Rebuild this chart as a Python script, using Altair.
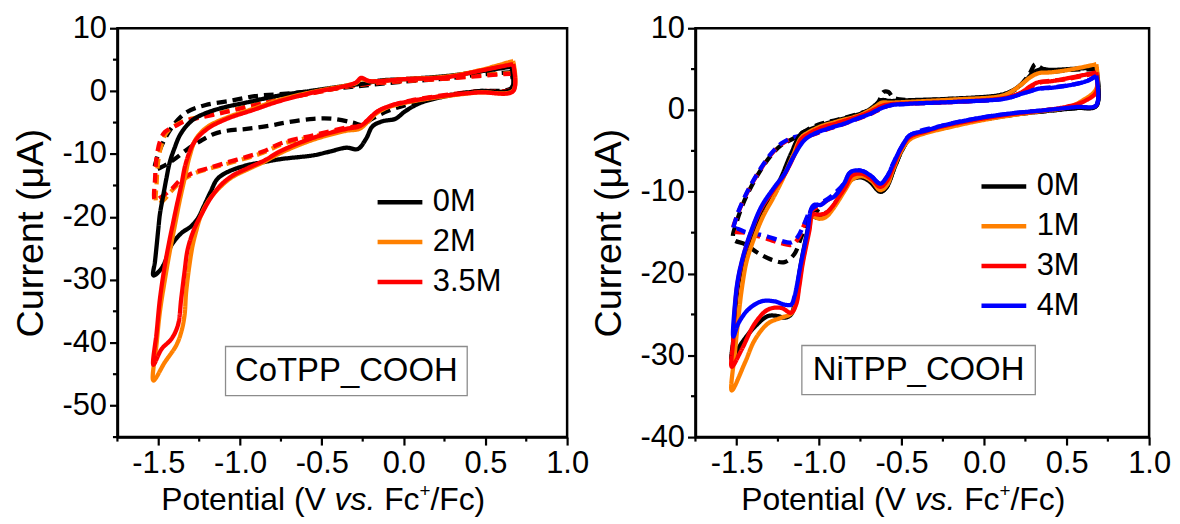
import altair as alt
import pandas as pd

FONT = "Liberation Sans"

# ---------------- series names / colours ----------------
CO_SERIES = ["0M", "2M", "3.5M"]
CO_COLORS = ["#000000", "#ff8000", "#ff0000"]
NI_SERIES = ["0M", "1M", "3M", "4M"]
NI_COLORS = ["#000000", "#ff8000", "#ff0000", "#0000ff"]

X_MAJOR = [-1.5, -1.0, -0.5, 0.0, 0.5, 1.0]
X_MINOR = [-1.75, -1.25, -0.75, -0.25, 0.25, 0.75]
CO_Y_MAJOR = [-50, -40, -30, -20, -10, 0, 10]
CO_Y_MINOR = [-55, -45, -35, -25, -15, -5, 5]
NI_Y_MAJOR = [-40, -30, -20, -10, 0, 10]
NI_Y_MINOR = [-35, -25, -15, -5, 5]

XTITLE_PARTS = ["Potential (V", "vs.", "Fc", "+", "/Fc)"]
YTITLE = "Current (\u03bcA)"

CO_NOTE = "CoTPP_COOH"
NI_NOTE = "NiTPP_COOH"
CO_NOTE_BOX = (-1.089, 0.389, -40.6, -48.4)   # x1, x2, y1, y2 (data units)
NI_NOTE_BOX = (-1.105, 0.310, -28.8, -34.8)

# ---------------- CoTPP_COOH curves (x, y) ----------------
CO_0M_SOLID = [
    (0.66, 3.9), (0.46, 3.1), (0.26, 2.4), (0.0, 1.9), (-0.14, 1.7), (-0.22, 1.3), (-0.35, 0.85),
    (-0.55, 0.1), (-0.76, -0.7), (-0.96, -1.8), (-1.10, -2.6), (-1.20, -3.4), (-1.28, -4.4),
    (-1.33, -5.6), (-1.37, -7.1), (-1.40, -9.0), (-1.43, -11.3), (-1.45, -13.8), (-1.47, -16.6),
    (-1.49, -19.5), (-1.50, -21.9), (-1.51, -24.5), (-1.52, -27.0), (-1.53, -29.3),
    (-1.49, -28.5), (-1.46, -27.2), (-1.42, -24.5), (-1.36, -22.6), (-1.30, -21.5), (-1.26, -20.3),
    (-1.22, -18.2), (-1.18, -16.0), (-1.14, -14.0), (-1.08, -12.9), (-0.96, -11.8), (-0.86, -11.3),
    (-0.75, -10.8), (-0.55, -10.2), (-0.45, -9.6), (-0.35, -9.0), (-0.28, -9.2), (-0.23, -7.6),
    (-0.19, -5.6), (-0.13, -4.8), (-0.05, -4.4), (0.01, -3.2), (0.10, -1.9), (0.26, -0.8),
    (0.46, 0.0), (0.66, 0.3), (0.66, 3.9)]
CO_2M_SOLID = [
    (0.67, 4.8), (0.46, 3.3), (0.26, 2.3), (0.0, 1.9), (-0.14, 1.6), (-0.21, 1.6), (-0.26, 1.9),
    (-0.29, 1.3), (-0.35, 0.9), (-0.55, -0.1), (-0.76, -1.4), (-0.92, -2.8), (-1.08, -4.2),
    (-1.20, -5.7), (-1.27, -7.6), (-1.31, -10.5), (-1.34, -14.0), (-1.37, -17.5), (-1.40, -21.5),
    (-1.43, -25.5), (-1.46, -30.0), (-1.49, -35.0), (-1.51, -40.0), (-1.53, -46.0),
    (-1.46, -43.1), (-1.39, -40.4), (-1.36, -38.3), (-1.34, -35.7), (-1.33, -32.0), (-1.31, -27.7),
    (-1.29, -24.5), (-1.27, -22.4), (-1.24, -19.8), (-1.19, -17.3), (-1.12, -15.2), (-1.05, -13.7),
    (-0.95, -12.4), (-0.85, -11.2), (-0.75, -9.8), (-0.55, -7.7), (-0.35, -6.3), (-0.27, -6.0),
    (-0.22, -4.9), (-0.17, -3.6), (-0.09, -2.5), (0.06, -1.6), (0.26, -0.8), (0.46, -0.2),
    (0.67, 0.1), (0.67, 4.8)]
CO_35M_SOLID = [
    (0.67, 4.3), (0.46, 3.2), (0.26, 2.2), (0.0, 1.9), (-0.14, 1.6), (-0.21, 1.6), (-0.26, 2.1),
    (-0.29, 1.4), (-0.35, 0.85), (-0.55, -0.2), (-0.76, -1.6), (-0.92, -3.0), (-1.08, -4.4),
    (-1.20, -6.0), (-1.28, -8.1), (-1.33, -11.3), (-1.36, -15.0), (-1.39, -18.5), (-1.41, -21.0),
    (-1.43, -23.5), (-1.46, -27.7), (-1.49, -33.0), (-1.51, -38.3), (-1.53, -43.5),
    (-1.48, -41.0), (-1.42, -39.4), (-1.38, -37.2), (-1.36, -33.0), (-1.34, -28.8), (-1.32, -25.1),
    (-1.28, -21.9), (-1.23, -19.3), (-1.18, -17.0), (-1.12, -15.0), (-1.05, -13.5), (-0.95, -12.2),
    (-0.85, -11.0), (-0.75, -9.5), (-0.55, -7.4), (-0.35, -6.0), (-0.27, -5.6), (-0.22, -4.7),
    (-0.17, -3.4), (-0.09, -2.4), (0.06, -1.5), (0.26, -0.7), (0.46, -0.2), (0.67, 0.0), (0.67, 4.3)]
CO_0M_DASH = [
    (0.66, 3.0), (0.46, 2.6), (0.26, 2.0), (0.0, 1.5), (-0.2, 1.0), (-0.35, 0.6), (-0.55, 0.0),
    (-0.77, -0.5), (-0.91, -0.8), (-1.05, -1.5), (-1.21, -2.2), (-1.33, -3.4), (-1.41, -5.5),
    (-1.47, -8.1), (-1.51, -10.8), (-1.52, -12.4),
    (-1.46, -11.8), (-1.40, -10.8), (-1.32, -9.2), (-1.24, -7.9), (-1.16, -6.8), (-1.08, -6.3),
    (-0.96, -6.0), (-0.82, -5.5), (-0.72, -5.0), (-0.55, -4.4), (-0.43, -4.4), (-0.31, -5.0),
    (-0.25, -5.4), (-0.20, -4.5), (-0.09, -3.1), (0.10, -1.6), (0.26, -0.7), (0.46, 0.0),
    (0.66, 0.5), (0.66, 3.0)]
CO_2M_DASH = [
    (0.67, 2.9), (0.46, 2.5), (0.26, 2.0), (0.0, 1.6), (-0.2, 1.2), (-0.35, 0.7), (-0.55, -0.3),
    (-0.76, -1.3), (-0.92, -2.2), (-1.10, -3.3), (-1.24, -4.1), (-1.33, -4.6), (-1.40, -5.5),
    (-1.45, -6.6), (-1.48, -8.5), (-1.50, -11.0), (-1.51, -14.5), (-1.51, -17.8),
    (-1.48, -17.6), (-1.42, -15.9), (-1.36, -14.3), (-1.28, -13.1), (-1.20, -12.4), (-1.10, -11.7),
    (-0.98, -10.8), (-0.86, -9.8), (-0.74, -8.4), (-0.55, -7.2), (-0.35, -6.0), (-0.27, -5.7),
    (-0.22, -4.8), (-0.17, -3.5), (-0.09, -2.5), (0.06, -1.5), (0.26, -0.7), (0.46, -0.1),
    (0.67, 0.3), (0.67, 2.9)]
CO_35M_DASH = [
    (0.67, 2.8), (0.46, 2.4), (0.26, 2.0), (0.0, 1.6), (-0.2, 1.2), (-0.35, 0.7), (-0.55, -0.3),
    (-0.76, -1.4), (-0.92, -2.3), (-1.10, -3.4), (-1.24, -4.2), (-1.33, -4.7), (-1.40, -5.6),
    (-1.46, -6.5), (-1.49, -8.0), (-1.51, -10.5), (-1.52, -14.0), (-1.52, -17.3),
    (-1.48, -16.8), (-1.42, -15.6), (-1.36, -14.0), (-1.28, -12.9), (-1.20, -12.3), (-1.10, -11.5),
    (-0.98, -10.6), (-0.86, -9.6), (-0.74, -8.2), (-0.55, -7.0), (-0.35, -5.8), (-0.27, -5.5),
    (-0.22, -4.6), (-0.17, -3.4), (-0.09, -2.4), (0.06, -1.4), (0.26, -0.6), (0.46, 0.0),
    (0.67, 0.4), (0.67, 2.8)]

# ---------------- NiTPP_COOH curves (x, y) ----------------
NI_0M_SOLID = [
    (0.68, 5.2), (0.51, 5.0), (0.40, 4.9), (0.35, 5.0), (0.30, 4.6), (0.25, 3.6), (0.19, 2.6),
    (0.11, 1.9), (-0.17, 1.4), (-0.45, 1.2), (-0.57, 1.1), (-0.62, 1.2), (-0.66, 0.6), (-0.70, 0.0),
    (-0.75, -0.45), (-0.89, -1.26), (-0.99, -1.87), (-1.07, -2.5), (-1.11, -2.9), (-1.17, -5.3),
    (-1.23, -8.2), (-1.29, -10.6), (-1.35, -12.6), (-1.41, -15.5), (-1.45, -17.9), (-1.49, -21.2),
    (-1.51, -24.8), (-1.52, -28.0), (-1.53, -30.5),
    (-1.47, -28.5), (-1.39, -26.5), (-1.31, -25.2), (-1.25, -25.2), (-1.21, -25.4), (-1.17, -25.0),
    (-1.15, -23.6), (-1.13, -21.2), (-1.11, -18.7), (-1.07, -14.7), (-1.05, -13.0), (-1.01, -13.2),
    (-0.97, -13.0), (-0.93, -12.2), (-0.89, -11.0), (-0.85, -9.8), (-0.81, -8.6), (-0.75, -8.2),
    (-0.69, -8.8), (-0.63, -10.0), (-0.59, -9.4), (-0.55, -7.4), (-0.50, -5.0), (-0.45, -3.5),
    (-0.35, -2.6), (-0.25, -2.1), (-0.05, -1.3), (0.15, -0.65), (0.36, -0.16), (0.56, 0.24),
    (0.68, 0.5), (0.68, 5.2)]
NI_1M_SOLID = [
    (0.68, 5.6), (0.51, 4.9), (0.40, 4.6), (0.33, 4.5), (0.28, 4.0), (0.23, 3.2), (0.17, 2.3),
    (0.10, 1.7), (-0.17, 1.3), (-0.45, 1.0), (-0.57, 0.9), (-0.62, 0.9), (-0.66, 0.4), (-0.70, -0.1),
    (-0.75, -0.6), (-0.89, -1.4), (-0.99, -2.0), (-1.07, -2.8), (-1.11, -3.4), (-1.16, -5.6),
    (-1.22, -8.4), (-1.28, -10.8), (-1.34, -13.0), (-1.40, -16.0), (-1.44, -18.5), (-1.47, -22.0),
    (-1.49, -25.5), (-1.51, -29.5), (-1.53, -34.3),
    (-1.45, -30.9), (-1.39, -28.1), (-1.31, -26.1), (-1.23, -25.4), (-1.17, -24.9), (-1.14, -23.6),
    (-1.12, -21.0), (-1.10, -18.5), (-1.06, -14.5), (-1.04, -13.0), (-1.00, -13.3), (-0.96, -13.1),
    (-0.92, -12.2), (-0.88, -11.0), (-0.84, -9.7), (-0.80, -8.5), (-0.74, -8.1), (-0.68, -8.7),
    (-0.63, -9.8), (-0.59, -9.2), (-0.55, -7.2), (-0.50, -4.9), (-0.45, -3.6), (-0.35, -2.8),
    (-0.25, -2.3), (-0.05, -1.4), (0.15, -0.7), (0.36, -0.1), (0.50, 0.3), (0.60, 1.2),
    (0.68, 2.6), (0.68, 5.6)]
NI_3M_SOLID = [
    (0.68, 4.6), (0.51, 3.9), (0.40, 3.5), (0.33, 3.4), (0.28, 2.9), (0.23, 2.2), (0.17, 1.7),
    (0.10, 1.4), (-0.17, 1.0), (-0.45, 0.8), (-0.57, 0.7), (-0.62, 0.5), (-0.66, 0.1), (-0.70, -0.3),
    (-0.75, -0.7), (-0.89, -1.6), (-0.99, -2.2), (-1.07, -3.0), (-1.11, -3.6), (-1.15, -5.5),
    (-1.21, -7.9), (-1.27, -9.6), (-1.35, -12.0), (-1.41, -14.8), (-1.45, -17.2), (-1.49, -20.6),
    (-1.51, -24.0), (-1.52, -28.0), (-1.53, -31.4),
    (-1.47, -29.3), (-1.39, -26.1), (-1.31, -24.4), (-1.23, -24.2), (-1.17, -24.8), (-1.14, -23.8),
    (-1.12, -21.5), (-1.10, -18.8), (-1.06, -14.8), (-1.04, -12.8), (-1.00, -12.8), (-0.96, -12.6),
    (-0.92, -11.8), (-0.88, -10.6), (-0.84, -9.4), (-0.80, -8.0), (-0.74, -7.8), (-0.68, -8.5),
    (-0.63, -9.4), (-0.59, -8.7), (-0.55, -6.9), (-0.50, -4.6), (-0.45, -3.3), (-0.35, -2.6),
    (-0.25, -2.0), (-0.05, -1.2), (0.15, -0.55), (0.36, -0.05), (0.50, 0.4), (0.60, 1.0),
    (0.68, 2.2), (0.68, 4.6)]
NI_4M_SOLID = [
    (0.68, 4.2), (0.63, 3.6), (0.51, 3.0), (0.40, 2.7), (0.33, 2.6), (0.28, 2.3), (0.23, 2.0),
    (0.13, 1.4), (-0.17, 1.0), (-0.45, 0.77), (-0.57, 0.57), (-0.63, 0.16), (-0.69, -0.45),
    (-0.77, -1.06), (-0.85, -1.67), (-0.95, -2.3), (-1.03, -2.9), (-1.09, -3.7), (-1.15, -5.5),
    (-1.21, -7.8), (-1.27, -9.4), (-1.35, -11.8), (-1.41, -14.7), (-1.45, -17.1), (-1.49, -20.4),
    (-1.51, -23.6), (-1.52, -27.7),
    (-1.49, -26.1), (-1.43, -24.4), (-1.35, -23.4), (-1.27, -23.4), (-1.21, -23.8), (-1.17, -23.8),
    (-1.15, -22.8), (-1.11, -18.7), (-1.07, -14.7), (-1.05, -12.2), (-1.03, -11.6), (-0.99, -11.6),
    (-0.95, -11.0), (-0.91, -10.6), (-0.85, -9.0), (-0.81, -7.6), (-0.75, -7.4), (-0.69, -8.0),
    (-0.63, -9.0), (-0.59, -8.2), (-0.55, -6.5), (-0.50, -4.5), (-0.45, -3.1), (-0.35, -2.5),
    (-0.25, -1.9), (-0.05, -1.05), (0.15, -0.45), (0.36, -0.04), (0.56, 0.37), (0.68, 0.57),
    (0.68, 4.2)]
NI_0M_DASH = [
    (0.68, 5.0), (0.51, 4.9), (0.40, 4.7), (0.34, 5.2), (0.31, 5.6), (0.28, 4.6), (0.24, 3.5),
    (0.19, 2.5), (0.11, 1.8), (-0.17, 1.4), (-0.45, 1.2), (-0.55, 1.5), (-0.58, 2.2), (-0.61, 2.2),
    (-0.64, 1.0), (-0.68, 0.1), (-0.75, -0.4), (-0.89, -1.2), (-0.99, -1.7), (-1.07, -2.4),
    (-1.15, -3.4), (-1.23, -4.3), (-1.29, -5.5), (-1.35, -7.2), (-1.41, -9.3), (-1.46, -11.4),
    (-1.50, -13.7), (-1.52, -15.8),
    (-1.45, -16.4), (-1.37, -17.5), (-1.29, -18.3), (-1.21, -18.6), (-1.15, -17.6), (-1.11, -15.6),
    (-1.07, -13.6), (-1.03, -12.2), (-0.99, -12.6), (-0.95, -12.5), (-0.91, -11.7), (-0.85, -9.8),
    (-0.81, -8.6), (-0.75, -8.2), (-0.69, -8.8), (-0.63, -10.0), (-0.59, -9.4), (-0.55, -7.4),
    (-0.50, -5.0), (-0.45, -3.5), (-0.25, -2.1), (-0.05, -1.3), (0.15, -0.65), (0.36, -0.16),
    (0.56, 0.24), (0.68, 0.5), (0.68, 5.0)]
NI_3M_DASH = [
    (0.68, 4.5), (0.51, 3.8), (0.33, 3.3), (0.23, 2.1), (0.10, 1.4), (-0.17, 1.0), (-0.45, 0.8),
    (-0.57, 0.6), (-0.63, 0.1), (-0.69, -0.5), (-0.77, -1.1), (-0.85, -1.7), (-0.95, -2.35),
    (-1.03, -2.95), (-1.07, -3.2), (-1.15, -3.4), (-1.23, -4.2), (-1.29, -5.4), (-1.35, -7.1),
    (-1.41, -9.1), (-1.46, -11.1), (-1.50, -13.1), (-1.52, -14.8),
    (-1.45, -15.0), (-1.39, -15.3), (-1.31, -15.8), (-1.23, -16.3), (-1.17, -16.5), (-1.13, -15.8),
    (-1.09, -14.0), (-1.05, -12.4), (-0.99, -11.6), (-0.93, -10.8), (-0.88, -10.6), (-0.84, -9.4),
    (-0.80, -8.0), (-0.74, -7.8), (-0.68, -8.5), (-0.63, -9.4), (-0.59, -8.7), (-0.55, -6.9),
    (-0.50, -4.6), (-0.45, -3.3), (-0.25, -2.0), (-0.05, -1.2), (0.15, -0.55), (0.36, -0.05),
    (0.56, 0.3), (0.68, 0.5), (0.68, 4.5)]
NI_4M_DASH = [
    (0.68, 4.2), (0.63, 3.6), (0.51, 3.0), (0.33, 2.6), (0.23, 2.0), (0.13, 1.4), (-0.17, 1.0),
    (-0.45, 0.77), (-0.57, 0.57), (-0.63, 0.16), (-0.69, -0.45), (-0.77, -1.06), (-0.85, -1.67),
    (-0.95, -2.3), (-1.03, -2.9), (-1.07, -3.1), (-1.15, -3.3), (-1.23, -4.1), (-1.29, -5.3),
    (-1.35, -7.0), (-1.41, -9.0), (-1.46, -11.0), (-1.50, -13.0), (-1.52, -14.7),
    (-1.50, -14.5), (-1.45, -14.9), (-1.39, -15.1), (-1.31, -15.5), (-1.23, -16.0), (-1.17, -16.2),
    (-1.13, -15.5), (-1.09, -13.9), (-1.05, -12.2), (-0.99, -11.4), (-0.93, -10.6), (-0.85, -9.0),
    (-0.81, -7.6), (-0.75, -7.4), (-0.69, -8.0), (-0.63, -9.0), (-0.59, -8.2), (-0.55, -6.5),
    (-0.50, -4.5), (-0.45, -3.1), (-0.25, -1.9), (-0.05, -1.05), (0.15, -0.45), (0.36, -0.04),
    (0.56, 0.37), (0.68, 0.57), (0.68, 4.2)]

CO_CURVES = [
    ("0M", "dashed", CO_0M_DASH), ("2M", "dashed", CO_2M_DASH), ("3.5M", "dashed", CO_35M_DASH),
    ("0M", "solid", CO_0M_SOLID), ("2M", "solid", CO_2M_SOLID), ("3.5M", "solid", CO_35M_SOLID),
]
NI_CURVES = [
    ("0M", "dashed", NI_0M_DASH), ("3M", "dashed", NI_3M_DASH), ("4M", "dashed", NI_4M_DASH),
    ("0M", "solid", NI_0M_SOLID), ("1M", "solid", NI_1M_SOLID), ("3M", "solid", NI_3M_SOLID),
    ("4M", "solid", NI_4M_SOLID),
]


def build_frame(curves):
    rows = []
    for ci, (name, style, pts) in enumerate(curves):
        for i, (x, y) in enumerate(pts):
            rows.append({"x": x, "y": y, "conc": name, "style": style,
                         "curve": f"c{ci:02d}", "order": i})
    return pd.DataFrame(rows)


def panel(curves, series, colors, ydom, ymajor, yminor, W, H, legx, legy, note, box):
    df = build_frame(curves)
    xscale = alt.Scale(domain=[-1.75, 1.0], nice=False, zero=False)
    yscale = alt.Scale(domain=ydom, nice=False, zero=False)
    x_axis = alt.Axis(
        values=X_MAJOR, title=None, grid=False, labelOverlap=False, labelFlush=False,
        labelExpr="(datum.value < 0 ? '-' : '') + format(abs(datum.value), '.1f')",
        tickSize=8, labelPadding=4,
    )
    y_axis = alt.Axis(
        values=ymajor, title=YTITLE, grid=False, labelOverlap=False, labelFlush=False,
        labelExpr="(datum.value < 0 ? '-' : '') + abs(datum.value)",
        tickSize=8, labelPadding=3, titlePadding=12,
    )
    lines = alt.Chart(df).mark_line(strokeWidth=4.3, interpolate="catmull-rom", strokeJoin="round").encode(
        x=alt.X("x:Q", scale=xscale, axis=x_axis),
        y=alt.Y("y:Q", scale=yscale, axis=y_axis),
        color=alt.Color("conc:N", scale=alt.Scale(domain=series, range=colors),
                        legend=alt.Legend(title=None, orient="none", legendX=legx, legendY=legy,
                                          symbolType="stroke", symbolStrokeWidth=4.5,
                                          symbolSize=2025, labelFont=FONT, labelFontSize=31,
                                          labelColor="black", labelOffset=8, rowPadding=0,
                                          padding=0, labelLimit=300)),
        strokeDash=alt.StrokeDash("style:N", scale=alt.Scale(domain=["solid", "dashed"],
                                                             range=[[1, 0], [10, 6]]), legend=None),
        detail="curve:N",
        order="order:Q",
    )
    bx = pd.DataFrame({"x1": [box[0]], "x2": [box[1]], "y1": [box[2]], "y2": [box[3]],
                       "t": [note], "xc": [(box[0] + box[1]) / 2], "yc": [(box[2] + box[3]) / 2]})
    rect = alt.Chart(bx).mark_rect(fill="white", stroke="#8c8c8c", strokeWidth=1.3).encode(
        x=alt.X("x1:Q", scale=xscale, axis=x_axis), x2="x2:Q",
        y=alt.Y("y1:Q", scale=yscale, axis=y_axis), y2="y2:Q")
    txt = alt.Chart(bx).mark_text(font=FONT, fontSize=33, color="black", baseline="middle").encode(
        x=alt.X("xc:Q", scale=xscale, axis=x_axis),
        y=alt.Y("yc:Q", scale=yscale, axis=y_axis), text="t:N")

    # minor ticks (outward, shorter than the major ones)
    xminor = alt.Chart(pd.DataFrame({"v": X_MINOR})).mark_rule(color="black", strokeWidth=2.2).encode(
        x=alt.X("v:Q", scale=xscale, axis=x_axis), y=alt.value(H), y2=alt.value(H + 4.5))
    yminor_l = alt.Chart(pd.DataFrame({"v": yminor})).mark_rule(color="black", strokeWidth=2.2).encode(
        y=alt.Y("v:Q", scale=yscale, axis=y_axis), x=alt.value(-4.5), x2=alt.value(0))

    # x title with italic "vs." and superscript "+"
    x0 = W / 2 - 182
    base = H + 73
    specs = [
        (XTITLE_PARTS[0], x0 + 165.4, base, "right", "normal", 32),
        (XTITLE_PARTS[1], x0 + 174.3, base, "left", "italic", 32),
        (XTITLE_PARTS[2], x0 + 224.1, base, "left", "normal", 32),
        (XTITLE_PARTS[3], x0 + 259.5, base - 13, "left", "normal", 19),
        (XTITLE_PARTS[4], x0 + 270.6, base, "left", "normal", 32),
    ]
    tlayers = []
    for t, px, py, al, st, fs in specs:
        tlayers.append(
            alt.Chart(pd.DataFrame({"t": [t]})).mark_text(
                font=FONT, fontSize=fs, fontStyle=st, align=al, baseline="alphabetic", color="black"
            ).encode(x=alt.value(px), y=alt.value(py), text="t:N"))
    return alt.layer(lines, rect, txt, xminor, yminor_l, *tlayers).properties(width=W, height=H)


left = panel(CO_CURVES, CO_SERIES, CO_COLORS, [-55, 10], CO_Y_MAJOR, CO_Y_MINOR,
             452, 411, 259, 150, CO_NOTE, CO_NOTE_BOX)
right = panel(NI_CURVES, NI_SERIES, NI_COLORS, [-40, 10], NI_Y_MAJOR, NI_Y_MINOR,
              456, 411, 285, 134, NI_NOTE, NI_NOTE_BOX)

chart = alt.hconcat(left, right, spacing=129, bounds="flush").resolve_scale(
    color="independent", strokeDash="independent"
).configure_view(stroke="black", strokeWidth=2.5).configure_axis(
    domainColor="black", domainWidth=2.5, tickColor="black", tickWidth=2.2,
    labelFont=FONT, labelFontSize=31, labelColor="black",
    titleFont=FONT, titleFontSize=38, titleFontWeight="normal", titleColor="black",
).properties(padding={"left": 2, "top": 1, "right": 0, "bottom": 0}, background="white")

chart.save("out.html", embed_options={"renderer": "svg", "actions": False})
